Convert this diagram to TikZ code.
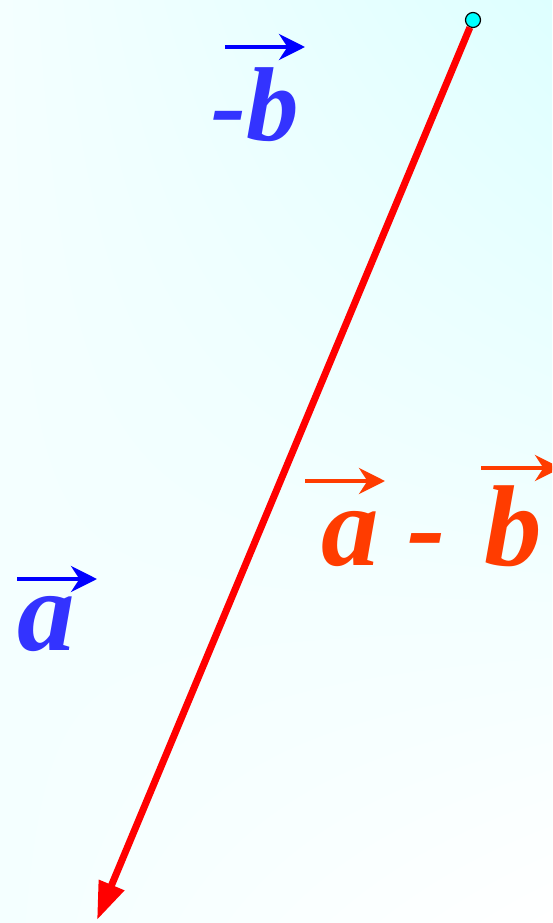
\documentclass[tikz,border=0pt]{standalone}
\usepackage{fontspec}
\setmainfont{Liberation Serif}
\usepackage{tikz}
\usetikzlibrary{arrows.meta, shadings}
\definecolor{vecblue}{RGB}{51,51,255}
\definecolor{arrowblue}{RGB}{0,0,255}
\definecolor{diffred}{RGB}{255,60,0}
\definecolor{bgcyan}{RGB}{222,255,255}
\definecolor{bgpale}{RGB}{244,255,255}
\definecolor{dotcyan}{RGB}{0,255,255}

\begin{document}
\begin{tikzpicture}[x=1pt, y=-1pt]
    \tikzstyle{vecletter} = [inner sep=0pt, anchor=base west, font=\bfseries\itshape\fontsize{115}{115}\selectfont]
    \tikzstyle{vecarrow} = [line width=4pt, -{Stealth[length=26pt, width=26pt]}]
    \tikzstyle{diffline} = [draw=red, line width=7pt, -{Triangle[length=38pt, width=26pt]}]

    \clip (0,0) rectangle (552,923);
    \shade[upper right=bgcyan, upper left=bgpale, lower left=bgpale, lower right=white] (0,0) rectangle (552,923);

    \node (minusb) [vecletter, text=vecblue, font=\bfseries\itshape\fontsize{105}{105}\selectfont] at (211,140) {-b};
    \node (veca) [vecletter, text=vecblue] at (17,650) {a};
    \node (diff) [vecletter, text=diffred] at (321,565) {a - \hspace{10pt}b};

    \draw [vecarrow, arrowblue] ([shift={(14,-93)}]minusb.base west) -- ++(80,0);
    \draw [vecarrow, arrowblue] ([shift={(0,-71)}]veca.base west) -- ++(80,0);
    \draw [vecarrow, diffred] ([shift={(-16,-84)}]diff.base west) -- ++(80,0);
    \draw [vecarrow, diffred] ([shift={(160,-97)}]diff.base west) -- ++(80,0);

    \coordinate (head) at (97,920);
    \node (tail) [circle, draw=black, fill=dotcyan, line width=1.2pt, minimum size=15pt, inner sep=0pt] at (473,20) {};
    \draw [diffline] (tail) -- (head);
\end{tikzpicture}
\end{document}
